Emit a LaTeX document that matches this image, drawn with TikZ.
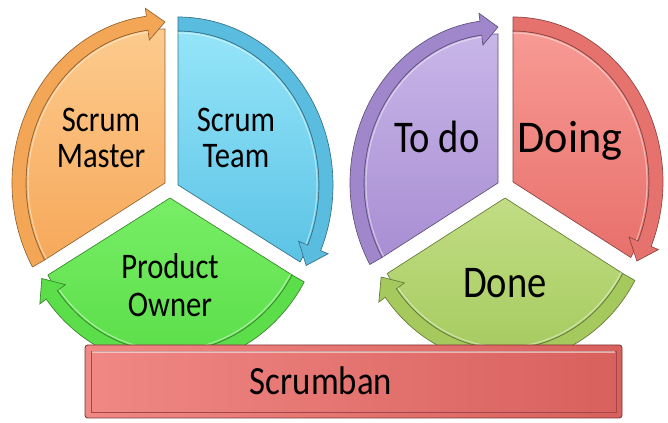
\documentclass[tikz,border=0pt]{standalone}
\usepackage{fontspec}
\setmainfont{Carlito}
\usepackage{xcolor}
\usetikzlibrary{positioning}

\definecolor{orangetop}{HTML}{FDCB8E}
\definecolor{orangebot}{HTML}{F6A85A}
\definecolor{orangeband}{HTML}{F3A655}
\definecolor{bluetop}{HTML}{95E5F9}
\definecolor{bluebot}{HTML}{5CC3E5}
\definecolor{blueband}{HTML}{5ABDDF}
\definecolor{greentop}{HTML}{78EE66}
\definecolor{greenbot}{HTML}{58DC46}
\definecolor{greenband}{HTML}{5CDD4A}
\definecolor{purpletop}{HTML}{C9B6E8}
\definecolor{purplebot}{HTML}{A88ED3}
\definecolor{purpleband}{HTML}{A087CC}
\definecolor{redtop}{HTML}{F89A94}
\definecolor{redbot}{HTML}{E8706B}
\definecolor{redband}{HTML}{E6726E}
\definecolor{limetop}{HTML}{C2DD84}
\definecolor{limebot}{HTML}{A3C95C}
\definecolor{limeband}{HTML}{A6C95E}
\definecolor{barleft}{HTML}{F08884}
\definecolor{barright}{HTML}{D8605D}

\tikzstyle{cycletext} = [font=\fontsize{27}{27}\selectfont, align=center, inner sep=0pt, xscale=0.85, transform shape]
\tikzstyle{bigtext} = [font=\fontsize{34}{34}\selectfont, inner sep=0pt, anchor=base, xscale=0.85, transform shape]
\tikzstyle{bartext} = [font=\fontsize{30}{30}\selectfont, inner sep=0pt, anchor=base, xscale=0.87, transform shape]

% one wedge of a cycle: centre x, centre y, start angle, end angle, rx, ry, top, bottom, band
\newcommand{\cyclepart}[9]{%
  \begin{scope}[shift={(#1,#2)}]
    \shade[top color=#7, bottom color=#8, draw=#9!60!black, line width=.5pt]
      (0,0) -- ({#3}:{#5-14} and {#6-14})
      arc[start angle=#3, end angle=#4, x radius=#5-14, y radius=#6-14] -- cycle;
    \filldraw[fill=#9, draw=#9!60!black, line width=.5pt]
      ({#3}:{#5} and {#6})
      arc[start angle=#3, end angle=#4+7, x radius=#5, y radius=#6]
      -- ({#4+7}:{#5+8} and {#6+8}) -- ({#4}:{#5-7} and {#6-7})
      -- ({#4+7}:{#5-24} and {#6-24}) -- ({#4+7}:{#5-14} and {#6-14})
      arc[start angle=#4+7, end angle=#3, x radius=#5-14, y radius=#6-14] -- cycle;
    \draw[white, opacity=.45, line width=.8pt]
      ({#3}:{#5-16} and {#6-16})
      arc[start angle=#3, end angle=#4+7, x radius=#5-16, y radius=#6-16];
  \end{scope}}

\begin{document}
\begin{tikzpicture}[x=0.75pt, y=0.75pt]
    \useasboundingbox (0,0) rectangle (668,-423);

    % left cycle
    \cyclepart{165}{-183}{210}{90}{153}{168}{orangetop}{orangebot}{orangeband}
    \cyclepart{178}{-185}{90}{-30}{155}{168}{bluetop}{bluebot}{blueband}
    \cyclepart{170}{-198}{-30}{-150}{155}{168}{greentop}{greenbot}{greenband}

    % right cycle
    \cyclepart{498}{-183}{210}{90}{148}{163}{purpletop}{purplebot}{purpleband}
    \cyclepart{513}{-182}{90}{-30}{150}{165}{redtop}{redbot}{redband}
    \cyclepart{505}{-198}{-30}{-150}{150}{165}{limetop}{limebot}{limeband}

    % bar
    \shade[left color=barleft, right color=barright, draw=barright!55!black, line width=.6pt, rounded corners=2pt]
      (85,-345) rectangle (622,-418);
    \draw[barright!75!black, line width=.5pt] (91,-351) rectangle (616,-412);
    \draw[white, opacity=.5, line width=.8pt] (92,-352) -- (615,-352);

    \node (master) [cycletext] at (101,-138) {Scrum\\Master};
    \node (team) [cycletext] at (236,-138) {Scrum\\Team};
    \node (owner) [cycletext, font=\fontsize{27}{29}\selectfont] at (170,-285) {Product\\Owner};
    \node (todo) [bigtext] at (437,-153) {To do};
    \node (doing) [bigtext, xscale=1.15] at (570,-153) {Doing};
    \node (done) [bigtext] at (505,-298) {Done};
    \node (scrumban) [bartext] at (321,-395) {Scrumban};
\end{tikzpicture}
\end{document}
